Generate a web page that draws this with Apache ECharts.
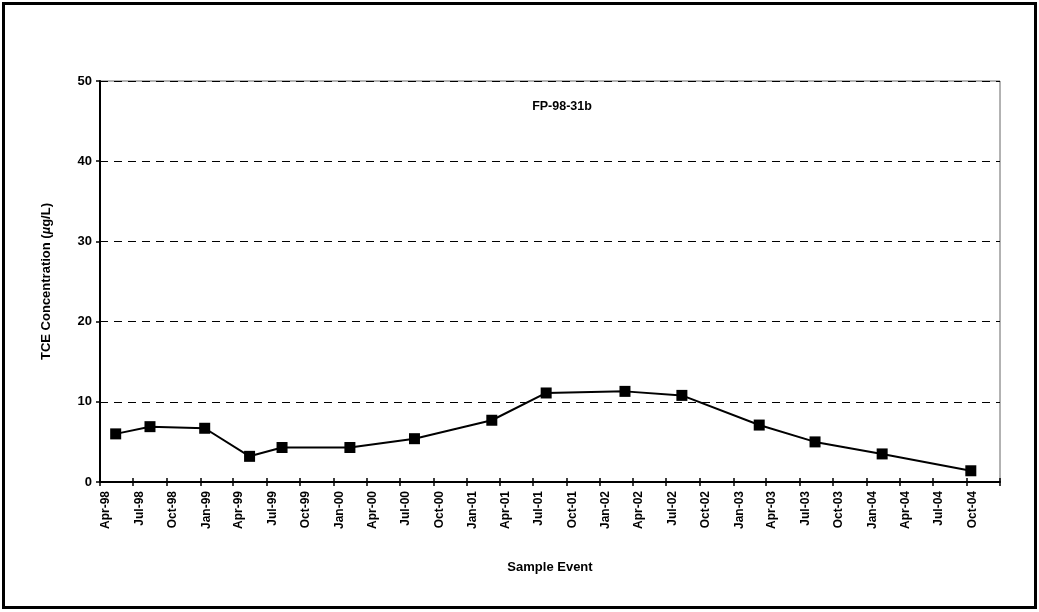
<!DOCTYPE html>
<html>
<head>
<meta charset="utf-8">
<script src="https://cdn.jsdelivr.net/npm/echarts@6/dist/echarts.min.js"></script>
<style>
  html, body { margin: 0; padding: 0; background: #fff; }
  #chart { width: 1039px; height: 612px; }
  .frame {
    position: absolute; left: 2px; top: 2px; width: 1029px; height: 601px;
    border: 3px solid #000; pointer-events: none;
  }
</style>
</head>
<body>
<div id="chart"></div>
<div class="frame"></div>
<script>
// sample dates and TCE values (ug/L)
const sampleDates = [
  "1998-05-14", "1998-08-16", "1999-01-13", "1999-05-16", "1999-08-13",
  "2000-02-15", "2000-08-10", "2001-03-10", "2001-08-06", "2002-03-10",
  "2002-08-13", "2003-03-13", "2003-08-13", "2004-02-13", "2004-10-13"
];
const tceValues = [6.0, 6.9, 6.7, 3.2, 4.3, 4.3, 5.4, 7.7, 11.1, 11.3, 10.8, 7.1, 5.0, 3.5, 1.4];

// quarterly ticks on the date axis (last one has a tick but no label)
const tickDates = [
  "1998-04-01", "1998-07-01", "1998-10-01", "1999-01-01", "1999-04-01", "1999-07-01",
  "1999-10-01", "2000-01-01", "2000-04-01", "2000-07-01", "2000-10-01", "2001-01-01",
  "2001-04-01", "2001-07-01", "2001-10-01", "2002-01-01", "2002-04-01", "2002-07-01",
  "2002-10-01", "2003-01-01", "2003-04-01", "2003-07-01", "2003-10-01", "2004-01-01",
  "2004-04-01", "2004-07-01", "2004-10-01", "2005-01-01"
];
const tickLabels = [
  "Apr-98", "Jul-98", "Oct-98", "Jan-99", "Apr-99", "Jul-99",
  "Oct-99", "Jan-00", "Apr-00", "Jul-00", "Oct-00", "Jan-01",
  "Apr-01", "Jul-01", "Oct-01", "Jan-02", "Apr-02", "Jul-02",
  "Oct-02", "Jan-03", "Apr-03", "Jul-03", "Oct-03", "Jan-04",
  "Apr-04", "Jul-04", "Oct-04", ""
];
const yTicks = [0, 10, 20, 30, 40, 50];

// days since 1998-04-01 (like a spreadsheet date axis)
const DAY = 86400000;
const BASE = Date.UTC(1998, 3, 1);
const toDay = (s) => {
  const p = s.split("-").map(Number);
  return Math.round((Date.UTC(p[0], p[1] - 1, p[2]) - BASE) / DAY);
};
const tickDays = tickDates.map(toDay);
const labelDays = tickDays.slice(0, tickLabels.length - 1);
const seriesData = sampleDates.map((d, i) => [toDay(d), tceValues[i]]);

const FONT = "Liberation Sans";
const chart = echarts.init(document.getElementById("chart"));

chart.setOption({
  animation: false,
  textStyle: { fontFamily: FONT },
  title: {
    text: "FP-98-31b",
    left: 557,
    top: 95,
    textAlign: "center",
    textStyle: { fontFamily: FONT, fontSize: 12.5, fontWeight: "bold", color: "#000" },
  },
  grid: {
    left: 100,
    right: 39,
    top: 81,
    bottom: 130,
    show: true,
    borderColor: "#666",
    borderWidth: 1,
  },
  xAxis: [
    {
      type: "value",
      min: tickDays[0],
      max: tickDays[tickDays.length - 1],
      name: "Sample Event",
      nameLocation: "middle",
      nameGap: 79,
      nameTextStyle: { fontFamily: FONT, fontSize: 13, fontWeight: "bold", color: "#000" },
      axisLine: { show: true, onZero: false, lineStyle: { color: "#000", width: 2 } },
      axisTick: { show: true, length: 4, customValues: tickDays, lineStyle: { color: "#000", width: 1.5 } },
      axisLabel: {
        rotate: 90,
        margin: 9,
        verticalAlign: "top",
        customValues: labelDays,
        fontFamily: FONT,
        fontSize: 12,
        fontWeight: "bold",
        color: "#000",
        formatter: (v) => {
          const i = tickDays.indexOf(v);
          return i >= 0 ? tickLabels[i] : "";
        },
      },
      splitLine: { show: false },
    },
    {
      // inner half of the cross ticks
      type: "value",
      position: "bottom",
      min: tickDays[0],
      max: tickDays[tickDays.length - 1],
      axisLine: { show: false, onZero: false },
      axisTick: { show: true, inside: true, length: 4, customValues: tickDays, lineStyle: { color: "#000", width: 1.5 } },
      axisLabel: { show: false },
      splitLine: { show: false },
    },
  ],
  yAxis: {
    type: "value",
    min: yTicks[0],
    max: yTicks[yTicks.length - 1],
    interval: 10,
    name: "TCE Concentration ({i|µ}g/L)",
    nameLocation: "middle",
    nameGap: 47,
    nameTextStyle: {
      fontFamily: FONT,
      fontSize: 13,
      fontWeight: "bold",
      color: "#000",
      rich: { i: { fontFamily: FONT, fontSize: 13, fontWeight: "bold", fontStyle: "italic", color: "#000" } },
    },
    axisLine: { show: true, lineStyle: { color: "#000", width: 2 } },
    axisTick: { show: true, length: 4, lineStyle: { color: "#000", width: 1.5 } },
    axisLabel: { margin: 8, fontFamily: FONT, fontSize: 13, fontWeight: "bold", color: "#000" },
    splitLine: {
      show: true,
      lineStyle: { color: "#000", width: 1, type: [8, 6] },
    },
  },
  series: [
    {
      name: "FP-98-31b",
      type: "line",
      data: seriesData,
      symbol: "rect",
      symbolSize: 11,
      lineStyle: { color: "#000", width: 2 },
      itemStyle: { color: "#000" },
    },
  ],
});
</script>
</body>
</html>
